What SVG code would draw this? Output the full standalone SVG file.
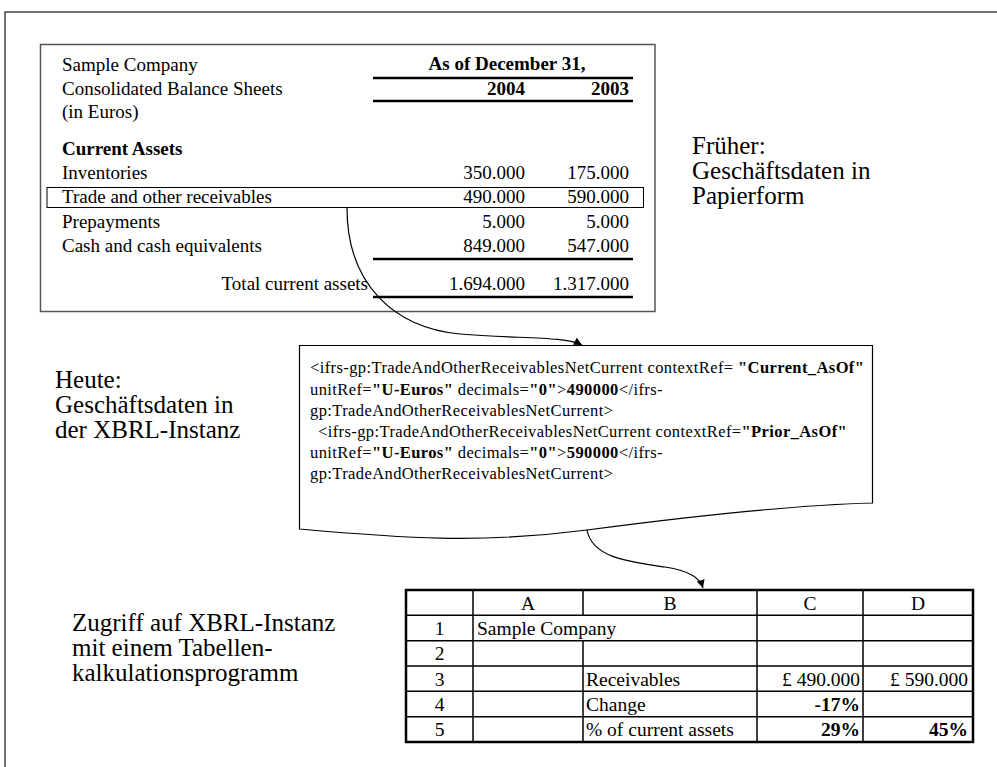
<svg xmlns="http://www.w3.org/2000/svg" width="997" height="767" viewBox="0 0 997 767">
<defs>
<style>
text { font-family: "Liberation Serif", "Times New Roman", serif; fill: #000; }
.bs { font-size: 19px; }
.b { font-weight: bold; }
.num { text-anchor: end; }
.lbl { font-size: 25px; }
.xml { font-size: 16.5px; letter-spacing: 0.4px; }
.tb { font-size: 19.5px; }
.mid { text-anchor: middle; }
.rule { stroke: #000; stroke-width: 2.5; }
.grid { stroke: #000; stroke-width: 1.5; fill: none; }
.conn { fill: none; stroke: #000; stroke-width: 1.2; marker-end: url(#arr); }
</style>
<marker id="arr" viewBox="0 0 10 10" refX="10" refY="5" markerWidth="9" markerHeight="8" markerUnits="userSpaceOnUse" orient="auto">
<path d="M0,0 L10,5 L0,10 z" fill="#000"/>
</marker>
</defs>
<rect width="997" height="767" fill="#fff"/>
<g id="frame">
<path d="M5,767 V12 H997" fill="none" stroke="#444" stroke-width="1.5"/>
</g>
<g id="balance-sheet">
<rect x="40.5" y="44.5" width="614.5" height="267" fill="#fff" stroke="#555" stroke-width="1.5"/>
<text class="bs" x="62" y="71">Sample Company</text>
<text class="bs" x="62" y="95">Consolidated Balance Sheets</text>
<text class="bs" x="62" y="118">(in Euros)</text>
<text class="bs b mid" x="507" y="70">As of December 31,</text>
<line class="rule" x1="373" y1="78" x2="633" y2="78"/>
<text class="bs b num" x="525" y="95">2004</text>
<text class="bs b num" x="629" y="95">2003</text>
<line class="rule" x1="373" y1="101" x2="633" y2="101"/>
<text class="bs b" x="62" y="155">Current Assets</text>
<text class="bs" x="62" y="179">Inventories</text>
<text class="bs num" x="525" y="179">350.000</text>
<text class="bs num" x="629" y="179">175.000</text>
<rect x="47" y="187.5" width="596.5" height="20" fill="none" stroke="#000" stroke-width="1"/>
<text class="bs" x="62" y="203">Trade and other receivables</text>
<text class="bs num" x="525" y="203">490.000</text>
<text class="bs num" x="629" y="203">590.000</text>
<text class="bs" x="62" y="228">Prepayments</text>
<text class="bs num" x="525" y="228">5.000</text>
<text class="bs num" x="629" y="228">5.000</text>
<text class="bs" x="62" y="252">Cash and cash equivalents</text>
<text class="bs num" x="525" y="252">849.000</text>
<text class="bs num" x="629" y="252">547.000</text>
<line class="rule" x1="373" y1="259" x2="633" y2="259"/>
<text class="bs num" x="368" y="290">Total current assets</text>
<text class="bs num" x="525" y="290">1.694.000</text>
<text class="bs num" x="629" y="290">1.317.000</text>
<line class="rule" x1="373" y1="297" x2="633" y2="297"/>
</g>
<g id="label-frueher">
<text class="lbl" x="692" y="154">Früher:</text>
<text class="lbl" x="692" y="179">Geschäftsdaten in</text>
<text class="lbl" x="692" y="204">Papierform</text>
</g>
<g id="xbrl-instance">
<path d="M299.5,345.5 H872.5 V503 C800,505 700,515 587,530 C480,544 400,538 299.5,529 Z" fill="#fff" stroke="#000" stroke-width="1.2"/>
<text class="xml" x="310" y="373">&lt;ifrs-gp:TradeAndOtherReceivablesNetCurrent contextRef= <tspan class="b">"Current_AsOf"</tspan></text>
<text class="xml" x="310" y="394.5">unitRef=<tspan class="b">"U-Euros"</tspan> decimals=<tspan class="b">"0"</tspan>&gt;<tspan class="b">490000</tspan>&lt;/ifrs-</text>
<text class="xml" x="310" y="416">gp:TradeAndOtherReceivablesNetCurrent&gt;</text>
<text class="xml" x="318" y="437">&lt;ifrs-gp:TradeAndOtherReceivablesNetCurrent contextRef=<tspan class="b">"Prior_AsOf"</tspan></text>
<text class="xml" x="310" y="458">unitRef=<tspan class="b">"U-Euros"</tspan> decimals=<tspan class="b">"0"</tspan>&gt;<tspan class="b">590000</tspan>&lt;/ifrs-</text>
<text class="xml" x="310" y="479">gp:TradeAndOtherReceivablesNetCurrent&gt;</text>
</g>
<g id="label-heute">
<text class="lbl" x="55" y="388">Heute:</text>
<text class="lbl" x="55" y="413">Geschäftsdaten in</text>
<text class="lbl" x="55" y="438">der XBRL-Instanz</text>
</g>
<g id="label-zugriff">
<text class="lbl" x="72" y="631">Zugriff auf XBRL-Instanz</text>
<text class="lbl" x="72" y="656">mit einem Tabellen-</text>
<text class="lbl" x="72" y="681">kalkulationsprogramm</text>
</g>
<g id="spreadsheet">
<rect x="406" y="590" width="567" height="152" fill="#fff" stroke="#000" stroke-width="2.5"/>
<path class="grid" d="M406,615.3 H973 M406,640.7 H973 M406,666 H973 M406,691.3 H973 M406,716.7 H973 M473,590 V742 M583,590 V615.3 M583,640.7 V742 M757,590 V742 M863,590 V742"/>
<text class="tb mid" x="528" y="609.5">A</text>
<text class="tb mid" x="670" y="609.5">B</text>
<text class="tb mid" x="810" y="609.5">C</text>
<text class="tb mid" x="918" y="609.5">D</text>
<text class="tb mid" x="439.5" y="635">1</text>
<text class="tb mid" x="439.5" y="660.3">2</text>
<text class="tb mid" x="439.5" y="685.5">3</text>
<text class="tb mid" x="439.5" y="711">4</text>
<text class="tb mid" x="439.5" y="736">5</text>
<text class="tb" x="477" y="635">Sample Company</text>
<text class="tb" x="586" y="685.5">Receivables</text>
<text class="tb num" x="860" y="685.5">£ 490.000</text>
<text class="tb num" x="968" y="685.5">£ 590.000</text>
<text class="tb" x="586" y="711">Change</text>
<text class="tb b num" x="860" y="711">-17%</text>
<text class="tb" x="586" y="736">% of current assets</text>
<text class="tb b num" x="860" y="736">29%</text>
<text class="tb b num" x="968" y="736">45%</text>
</g>
<g id="connectors">
<path class="conn" d="M347,208 C347,285 395,328 460,334 C520,339 565,336 582,345"/>
<path class="conn" d="M587,530 C592,558 630,562 665,567 C690,571 700,578 703,588"/>
</g>
</svg>
